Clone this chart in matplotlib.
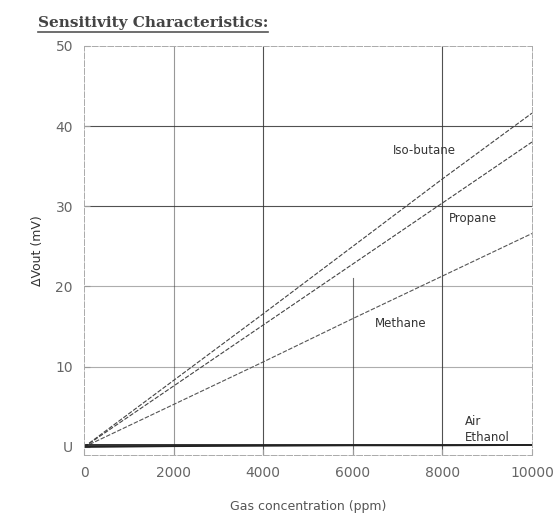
import matplotlib.pyplot as plt
import numpy as np

# gas concentration (ppm) and sensor output (mV)
conc = [0, 2000, 4000, 6000, 8000, 10000]
isobutane = [0, 8.3, 16.6, 25.0, 33.4, 41.6]
propane = [0, 7.6, 15.2, 22.8, 30.4, 38.0]
methane = [0, 5.3, 10.6, 16.0, 21.3, 26.6]
air = [0.3, 0.3, 0.3, 0.3, 0.3, 0.3]
ethanol = [0.0, 0.1, 0.15, 0.2, 0.2, 0.25]

xticks = [0, 2000, 4000, 6000, 8000, 10000]
yticks = [0, 10, 20, 30, 40, 50]
ytick_labels = ['U', '10', '20', '30', '40', '50']

fig = plt.figure(figsize=(5.57, 5.26), dpi=100)
ax = fig.add_axes([0.151, 0.135, 0.804, 0.778])

# grid, darker lines for 30/40 and 4000/8000 like the scan
for y, a in [(10, 0.4), (20, 0.4), (30, 0.85), (40, 0.85)]:
    ax.axhline(y, color='#333333', lw=0.8, alpha=a, zorder=1)
for x, a in [(2000, 0.5), (4000, 0.85), (8000, 0.85)]:
    ax.axvline(x, color='#333333', lw=0.8, alpha=a, zorder=1)
ax.plot([6000, 6000], [-1, 21], color='#333333', lw=0.8, alpha=0.7, zorder=1)

ax.plot(conc, isobutane, color='#444444', lw=0.8, ls=(0, (4, 1.5)))
ax.plot(conc, propane, color='#444444', lw=0.8, ls=(0, (4, 1.5)))
ax.plot(conc, methane, color='#555555', lw=0.8, ls=(0, (4, 1.5)))
ax.plot(conc, air, color='#222222', lw=1.3)
ax.plot(conc, ethanol, color='#222222', lw=1.3)

ax.text(6900, 36.5, 'Iso-butane', fontsize=8.5, color='#333333')
ax.text(8150, 28.0, 'Propane', fontsize=8.5, color='#333333')
ax.text(6500, 15.0, 'Methane', fontsize=8.5, color='#333333')
ax.text(8500, 2.7, 'Air', fontsize=8.5, color='#333333')
ax.text(8500, 0.8, 'Ethanol', fontsize=8.5, color='#333333')

ax.set_xlim(0, 10000)
ax.set_ylim(-1, 50)
ax.set_xticks(xticks)
ax.set_yticks(yticks)
ax.set_yticklabels(ytick_labels)
ax.tick_params(labelsize=10, labelcolor='#666666', colors='#999999', direction='in', length=4, pad=8)
for s in ax.spines.values():
    s.set_color('#aaaaaa')
    s.set_linewidth(0.7)
    s.set_linestyle((0, (6, 2)))

ax.set_xlabel('Gas concentration (ppm)', fontsize=9, color='#555555', labelpad=14)
ax.set_ylabel('ΔVout (mV)', fontsize=9, color='#333333', labelpad=8)

fig.text(0.068, 0.957, 'Sensitivity Characteristics:', fontsize=11, family='DejaVu Serif',
         weight='bold', color='#444444', va='center')
fig.add_artist(plt.Line2D([0.068, 0.482], [0.94, 0.94], color='#555555', lw=1.2))

fig.savefig('out.png', dpi=100)
